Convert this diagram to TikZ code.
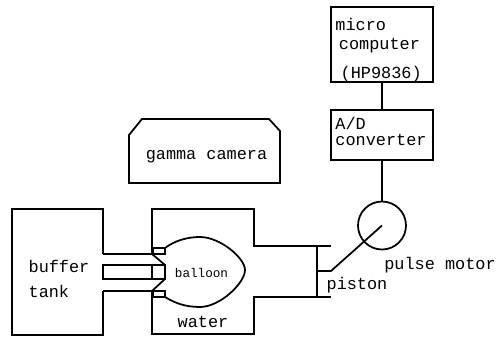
\documentclass[tikz,border=0pt]{standalone}
\usepackage{fontspec}
\setmonofont{Liberation Mono}
\usepackage{tikz}
\usetikzlibrary{positioning}

\tikzset{
  unit/.style={draw, rectangle, line width=1pt, minimum width=2.04cm, inner sep=0pt},
  lbl/.style={font=\ttfamily\fontsize{9.6}{12}\selectfont, inner sep=0pt},
  wall/.style={line width=1pt, line join=miter}
}

\begin{document}
\begin{tikzpicture}
  \useasboundingbox (0,0) rectangle (10.04,6.76);

  \node[unit, minimum height=1.5cm] (micro) at (7.64,5.87) {};
  \node[unit, minimum height=1cm, below=0.52cm of micro] (adc) {};
  \node[draw, circle, line width=1pt, minimum size=0.96cm, inner sep=0pt, below=0.8cm of adc] (motor) {};
  \draw[wall] (micro) -- (adc);
  \draw[wall] (adc) -- (motor);

  \node[lbl, align=left, below=0.24cm of micro.north west, anchor=north west, xshift=0.1cm] (microtext)
    {micro\\[-1.2pt]\hspace{2pt}computer\\[4.5pt]\hspace{3pt}(HP9836)};
  \node[lbl, align=left, below=0.16cm of adc.north west, anchor=north west, xshift=0.1cm] (adctext)
    {A/D\\[-3pt]converter};

  % camera head
  \draw[wall] (2.58,3.1) -- (2.58,4.06) -- (2.84,4.38) -- (5.38,4.38) -- (5.6,4.14) -- (5.6,3.1) -- cycle;
  \node[lbl] (camera) at (4.13,3.63) {gamma camera};

  % tank and chamber
  \draw[wall] (2.06,1.68) -- (2.06,2.58) -- (0.24,2.58) -- (0.24,0.06) -- (2.06,0.06) -- (2.06,0.94);
  \draw[wall] (2.06,1.68) -- (3.04,1.68) -- (3.3,1.46) -- (3.3,1.18) -- (3.04,0.94) -- (2.06,0.94);
  \draw[wall] (2.06,1.46) rectangle (3.3,1.18);
  \draw[wall] (3.04,1.46) -- (3.04,1.18);
  \draw[wall] (3.04,1.68) -- (3.04,2.58) -- (5.08,2.58) -- (5.08,1.84) -- (6.62,1.84);
  \draw[wall] (3.04,0.94) -- (3.04,0.08) -- (5.08,0.08) -- (5.08,0.82) -- (6.62,0.82);
  \draw[wall] (3.06,1.68) rectangle (3.3,1.8);
  \draw[wall] (3.06,0.94) rectangle (3.3,0.82);

  % balloon
  \draw[wall] (3.3,1.8) .. controls (3.5,1.95) and (3.75,2.02) .. (4,2.02)
    .. controls (4.4,2.02) and (4.9,1.6) .. (4.9,1.36)
    .. controls (4.9,1.1) and (4.4,0.62) .. (4,0.62)
    .. controls (3.7,0.62) and (3.5,0.7) .. (3.3,0.82);
  \node[lbl, font=\ttfamily\fontsize{7.2}{9}\selectfont] (balloon) at (4.03,1.3) {balloon};
  \node[lbl] (water) at (4.06,0.33) {water};

  % piston and rod
  \coordinate (rodend) at (6.62,1.34);
  \draw[wall] (6.34,1.84) -- (6.34,0.82);
  \draw[wall] (6.34,1.34) -- (rodend) -- (motor.center);

  \node[lbl] (buffer) at (1.18,1.44) {buffer};
  \node[lbl, below=0.24cm of buffer.south west, anchor=north west] (tank) {tank};
  \node[lbl] (piston) at (7.14,1.06) {piston};
  \node[lbl] (pulse) at (8.8,1.46) {pulse motor};
\end{tikzpicture}
\end{document}
